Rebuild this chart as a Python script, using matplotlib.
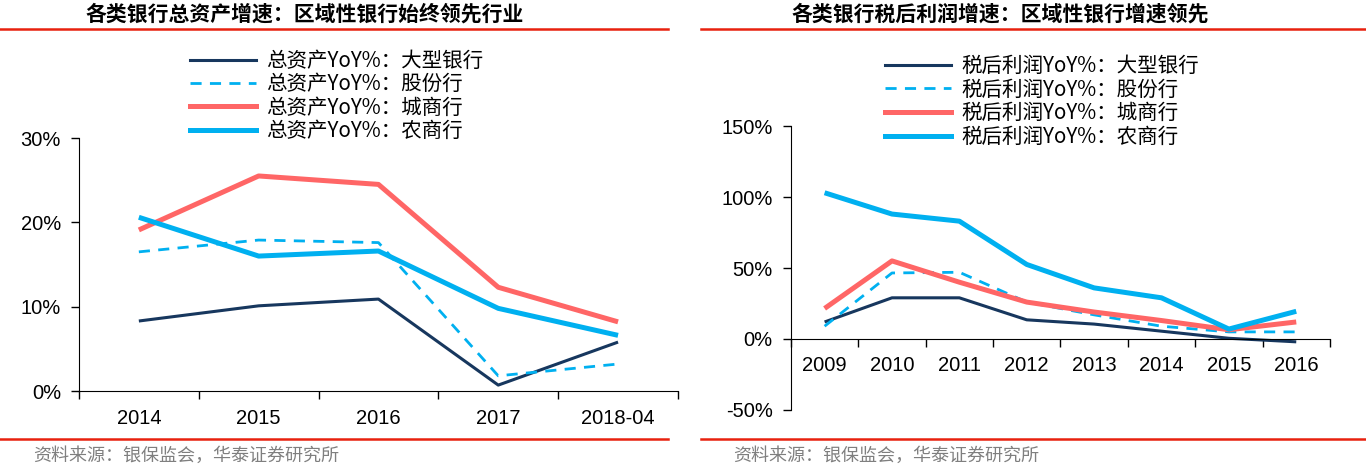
import numpy as np
import matplotlib
matplotlib.use("Agg")
import matplotlib.pyplot as plt
from matplotlib.lines import Line2D
from matplotlib.ticker import FixedLocator, FuncFormatter

plt.rcParams['font.family'] = ['Liberation Sans', 'Noto Sans CJK SC', 'DejaVu Sans']

# left chart: total assets growth
asset_years = ["2014", "2015", "2016", "2017", "2018-04"]
asset_big = [8.3, 10.1, 10.9, 0.7, 5.8]
asset_joint = [16.5, 17.9, 17.6, 1.8, 3.2]
asset_city = [19.1, 25.5, 24.5, 12.3, 8.2]
asset_rural = [20.6, 16.0, 16.6, 9.8, 6.6]

# right chart: net profit growth
profit_years = ["2009", "2010", "2011", "2012", "2013", "2014", "2015", "2016"]
profit_big = [12, 29, 29, 13.5, 10.5, 5.5, 0.5, -2]
profit_joint = [9, 46.5, 47, 26, 17, 9, 5, 5]
profit_city = [21.5, 55, 40, 26, 19, 13, 6.5, 12]
profit_rural = [103, 88, 83, 52.5, 36, 29, 7, 19.5]

bank_types = ["大型银行", "股份行", "城商行", "农商行"]

navy = "#17375E"
cyan = "#00B0F0"
red = "#FF6666"
styles = [
    dict(color=navy, lw=2.2, ls='-'),
    dict(color=cyan, lw=2.0, ls=(0, (4, 3))),
    dict(color=red, lw=3.6, ls='-'),
    dict(color=cyan, lw=3.6, ls='-'),
]

cjk = ['Noto Sans CJK SC', 'DejaVu Sans']
fig = plt.figure(figsize=(13.66, 4.72), dpi=100)


def pct(v, pos):
    return f"{v:.0f}%"


def draw_panel(ax, years, series, prefix, yticks):
    x = np.arange(len(years))
    for vals, st in zip(series, styles):
        ax.plot(x, vals, solid_capstyle='butt', **st)
    ax.set_xlim(-0.5, len(years) - 0.5)
    ax.set_ylim(yticks[0], yticks[-1])
    ax.set_yticks(yticks)
    ax.yaxis.set_major_formatter(FuncFormatter(pct))
    ax.set_xticks(x)
    ax.set_xticklabels(years)
    ax.xaxis.set_minor_locator(FixedLocator(np.arange(len(years) + 1) - 0.5))
    ax.tick_params(axis='x', which='major', length=0, labelsize=14.5, pad=13)
    ax.tick_params(axis='x', which='minor', length=6, width=1)
    ax.tick_params(axis='y', length=6, width=1, labelsize=14.5, pad=7)
    for s in ['top', 'right']:
        ax.spines[s].set_visible(False)
    handles = [Line2D([0], [0], **st) for st in styles]
    labels = [f"{prefix}YoY%：{b}" for b in bank_types]
    return handles, labels


def add_legend(ax, handles, labels, x, y, spacing):
    ax.legend(handles, labels, loc='upper left', bbox_to_anchor=(x, y),
              bbox_transform=fig.transFigure, frameon=False,
              prop={'family': cjk, 'size': 14.8}, handlelength=3.2,
              labelspacing=spacing, handletextpad=0.5, borderaxespad=0,
              borderpad=0)


ax1 = fig.add_axes([0.0578, 0.1716, 0.4385, 0.536])
h, l = draw_panel(ax1, asset_years, [asset_big, asset_joint, asset_city, asset_rural],
                  "总资产", [0, 10, 20, 30])
add_legend(ax1, h, l, 190 / 1366, 1 - 50 / 472, 0.06)

ax2 = fig.add_axes([0.579, 0.1314, 0.3946, 0.6016])
h, l = draw_panel(ax2, profit_years, [profit_big, profit_joint, profit_city, profit_rural],
                  "税后利润", [-50, 0, 50, 100, 150])
ax2.spines['bottom'].set_position(('data', 0))
ax2.tick_params(axis='x', which='major', pad=12)
add_legend(ax2, h, l, 885 / 1366, 1 - 55 / 472, 0.08)

# titles, separator lines and sources
fig.text(305 / 1366, 1 - 14 / 472, "各类银行总资产增速：区域性银行始终领先行业",
         ha='center', va='center', fontsize=15, fontweight='bold', family=cjk)
fig.text(1000 / 1366, 1 - 14 / 472, "各类银行税后利润增速：区域性银行增速领先",
         ha='center', va='center', fontsize=15, fontweight='bold', family=cjk)
red_line = "#E8210F"
fig.add_artist(Line2D([0, 668 / 1366], [1 - 29 / 472] * 2, color=red_line, lw=1.8))
fig.add_artist(Line2D([701 / 1366, 1], [1 - 29 / 472] * 2, color=red_line, lw=1.8))
fig.add_artist(Line2D([0, 668 / 1366], [1 - 439 / 472] * 2, color=red_line, lw=1.8))
fig.add_artist(Line2D([701 / 1366, 1], [1 - 439 / 472] * 2, color=red_line, lw=1.8))
fig.text(33 / 1366, 1 - 456 / 472, "资料来源：银保监会，华泰证券研究所",
         ha='left', va='center', fontsize=13, color="#7F7F7F", family=cjk)
fig.text(733 / 1366, 1 - 456 / 472, "资料来源：银保监会，华泰证券研究所",
         ha='left', va='center', fontsize=13, color="#7F7F7F", family=cjk)

fig.savefig("out.png", dpi=100)
